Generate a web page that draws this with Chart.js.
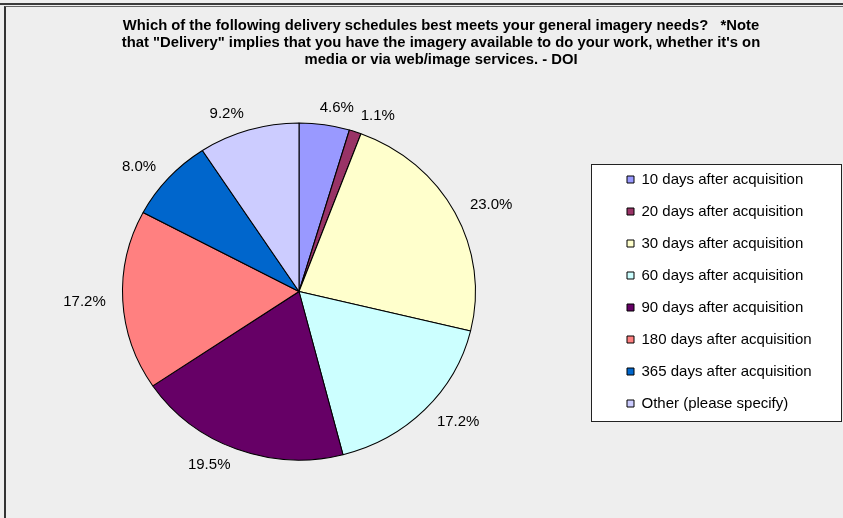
<!DOCTYPE html>
<html>
<head>
<meta charset="utf-8">
<script src="https://cdn.jsdelivr.net/npm/chart.js@4.4.0/dist/chart.umd.min.js"></script>
<style>
  html, body { margin: 0; padding: 0; }
  body { width: 843px; height: 518px; background: #eeeeee; position: relative; overflow: hidden;
         font-family: "Liberation Sans", Arial, sans-serif; }
  #rule { position: absolute; left: 0; top: 3px; width: 843px; height: 2px; background: #3a3a3a; }
  #frame { position: absolute; left: 4px; top: 6px; width: 850px; height: 520px;
           border-left: 2px solid #333; border-top: 1px solid #666; }
  #wrap { position: absolute; left: -12px; top: 0; }
  #title { position: absolute; left: 0; top: 17px; width: 882px; text-align: center;
           font-weight: bold; font-size: 14.8px; line-height: 17px; color: #000; }
</style>
</head>
<body>
<div id="rule"></div>
<div id="frame"></div>
<div id="wrap"><canvas id="pie" width="855" height="518"></canvas></div>
<div id="title">Which of the following delivery schedules best meets your general imagery needs?&nbsp;&nbsp; *Note<br>that "Delivery" implies that you have the imagery available to do your work, whether it's on<br>media or via web/image services. - DOI</div>
<script>
// answer options and their share of responses (%)
var schedules = ["10 days after acquisition", "20 days after acquisition", "30 days after acquisition",
                 "60 days after acquisition", "90 days after acquisition", "180 days after acquisition",
                 "365 days after acquisition", "Other (please specify)"];
var shares = [4.6, 1.1, 23.0, 17.2, 19.5, 17.2, 8.0, 9.2];
var sliceColors = ["#9999FF", "#993366", "#FFFFCC", "#CCFFFF", "#660066", "#FF8080", "#0066CC", "#CCCCFF"];

// the original pie is a bit wider than tall
var STRETCH = 176.5 / 168.5;
var FONT = '"Liberation Sans", Arial, sans-serif';

var pieDecor = {
    id: 'pieDecor',
    beforeDraw: function (chart) {
        // white box behind the legend
        var lg = chart.legend;
        var hb = lg.legendHitBoxes;
        if (!hb || !hb.length) return;
        var ctx = chart.ctx;
        var x = Math.round(lg.left - 19) + 0.5;
        var top = Math.round(hb[0].top - 8) + 0.5;
        var last = hb[hb.length - 1];
        var bottom = Math.round(last.top + last.height + 10) + 0.5;
        ctx.save();
        ctx.fillStyle = '#ffffff';
        ctx.fillRect(x, top, 250, bottom - top);
        ctx.strokeStyle = '#222';
        ctx.lineWidth = 1;
        ctx.strokeRect(x, top, 250, bottom - top);
        ctx.restore();
    },
    beforeDatasetsDraw: function (chart) {
        var arc = chart.getDatasetMeta(0).data[0];
        var ctx = chart.ctx;
        ctx.save();
        ctx.translate(arc.x, 0);
        ctx.scale(STRETCH, 1);
        ctx.translate(-arc.x, 0);
    },
    afterDatasetsDraw: function (chart) {
        var ctx = chart.ctx;
        ctx.restore();
        // percentage labels outside the slices
        var meta = chart.getDatasetMeta(0);
        ctx.save();
        ctx.font = '15px ' + FONT;
        ctx.fillStyle = '#000';
        ctx.textAlign = 'center';
        ctx.textBaseline = 'middle';
        meta.data.forEach(function (arc, i) {
            var a = (arc.startAngle + arc.endAngle) / 2;
            var dx = Math.cos(a), dy = Math.sin(a);
            var rx = arc.outerRadius * STRETCH, ry = arc.outerRadius;
            var txt = shares[i].toFixed(1) + '%';
            var w = ctx.measureText(txt).width;
            var px = arc.x + (rx + 17) * dx + Math.max(-1, Math.min(1, 4 * dx)) * w / 2;
            var py = arc.y + (ry + 10) * dy + dy * 7;
            ctx.fillText(txt, px, py);
        });
        ctx.restore();
    }
};

var chartPie = new Chart(document.getElementById("pie").getContext("2d"), {
    type: 'pie',
    data: {
        labels: schedules,
        datasets: [{
            data: shares,
            backgroundColor: sliceColors,
            borderColor: '#000',
            borderWidth: 1
        }]
    },
    options: {
        responsive: false,
        animation: false,
        radius: 168.5,
        layout: {
            padding: { top: 65, bottom: 0, left: 0, right: 28 }
        },
        plugins: {
            legend: {
                position: 'right',
                align: 'center',
                maxWidth: 205,
                labels: {
                    boxWidth: 7,
                    boxHeight: 7,
                    padding: 17,
                    color: '#000',
                    font: { family: FONT, size: 15 }
                }
            },
            tooltip: { enabled: false }
        }
    },
    plugins: [pieDecor]
});
</script>
</body>
</html>
